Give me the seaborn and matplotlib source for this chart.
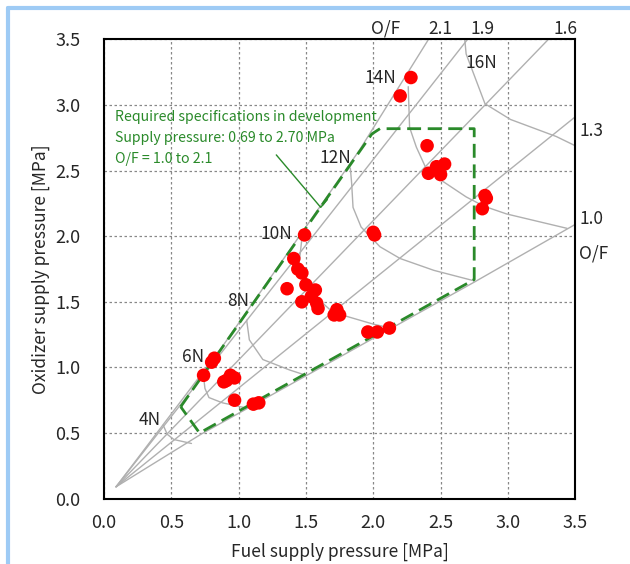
import matplotlib
matplotlib.use("Agg")
import matplotlib.pyplot as plt
import seaborn as sns
import numpy as np
import pandas as pd
from matplotlib.lines import Line2D
from matplotlib.ticker import MultipleLocator, FormatStrFormatter

# test points (fuel, oxidizer) [MPa]
fuel_p = [2.28, 2.20, 2.40, 2.41, 2.47, 2.53, 2.50, 2.83, 2.84, 2.81,
          1.49, 2.00, 2.01, 1.41, 1.44, 1.47, 1.50, 1.36, 1.57, 1.54,
          1.47, 1.58, 1.59, 1.73, 1.71, 1.75, 1.96, 2.03, 2.12,
          0.80, 0.82, 0.74, 0.94, 0.89, 0.91, 0.97, 0.97, 1.11, 1.15]
ox_p = [3.21, 3.07, 2.69, 2.48, 2.53, 2.55, 2.47, 2.31, 2.29, 2.21,
        2.01, 2.03, 2.01, 1.83, 1.75, 1.72, 1.63, 1.60, 1.59, 1.54,
        1.50, 1.49, 1.45, 1.44, 1.40, 1.40, 1.27, 1.27, 1.30,
        1.04, 1.07, 0.94, 0.94, 0.89, 0.90, 0.92, 0.75, 0.72, 0.73]

# constant O/F lines
of_labels = ["2.1", "1.9", "1.6", "1.3", "1.0"]
of_x = [[0.09, 0.88, 1.90, 2.41],
        [0.09, 2.70],
        [0.09, 3.30],
        [0.09, 3.50],
        [0.09, 0.72, 2.75, 3.50]]
of_y = [[0.09, 1.16, 2.66, 3.50],
        [0.09, 3.50],
        [0.09, 3.50],
        [0.09, 2.91],
        [0.09, 0.49, 1.65, 2.09]]

# constant thrust curves
thrust_labels = ["4N", "6N", "8N", "10N", "12N", "14N", "16N"]
thrust_x = [[0.44, 0.47, 0.52, 0.65],
            [0.74, 0.75, 0.78, 0.88, 1.06],
            [1.06, 1.08, 1.18, 1.38, 1.50],
            [1.47, 1.45, 1.55, 1.70, 2.00, 2.13],
            [1.83, 1.84, 1.85, 1.91, 2.05, 2.20, 2.45, 2.75],
            [2.26, 2.27, 2.32, 2.40, 2.50, 2.69, 2.82, 2.99, 3.44],
            [2.68, 2.69, 2.83, 3.02, 3.36, 3.50]]
thrust_y = [[0.56, 0.49, 0.45, 0.42],
            [0.93, 0.84, 0.77, 0.73, 0.69],
            [1.36, 1.21, 1.06, 0.98, 0.94],
            [1.98, 1.80, 1.56, 1.42, 1.33, 1.30],
            [2.52, 2.40, 2.22, 2.07, 1.92, 1.83, 1.74, 1.66],
            [3.14, 2.83, 2.68, 2.50, 2.43, 2.30, 2.23, 2.17, 2.06],
            [3.50, 3.39, 3.01, 2.89, 2.76, 2.69]]
thrust_pos = [(0.34, 0.60), (0.66, 1.08), (1.00, 1.51), (1.28, 2.02),
              (1.72, 2.60), (2.05, 3.21), (2.80, 3.32)]

# required specification envelope
spec_x = [0.57, 1.99, 2.05, 2.75, 2.75, 0.71, 0.57]
spec_y = [0.70, 2.78, 2.82, 2.82, 1.67, 0.50, 0.70]
leader_x = [1.28, 1.61, 1.66]
leader_y = [2.62, 2.22, 2.28]
spec_lines = ["Required specifications in development",
              "Supply pressure: 0.69 to 2.70 MPa",
              "O/F = 1.0 to 2.1"]
spec_text_y = [2.91, 2.75, 2.59]

sns.set_style("white")
plt.rcParams["font.family"] = ["Noto Sans CJK JP", "DejaVu Sans"]

fig = plt.figure(figsize=(6.3, 5.64), dpi=100)
ax = fig.add_axes([0.165, 0.116, 0.748, 0.814])

gray = "#b0b0b0"
for xs, ys in zip(of_x, of_y):
    ax.plot(xs, ys, color=gray, lw=1.0, zorder=2)
for xs, ys in zip(thrust_x, thrust_y):
    ax.plot(xs, ys, color=gray, lw=1.0, zorder=2)

green = "#2a8a2a"
ax.plot(spec_x, spec_y, color=green, lw=2.0, ls=(0, (5, 2.4)), zorder=3)
ax.plot(leader_x, leader_y, color=green, lw=1.0, zorder=3)

df = pd.DataFrame({"fuel": fuel_p, "ox": ox_p})
sns.scatterplot(data=df, x="fuel", y="ox", color="#ff0000", s=95,
                edgecolor="none", ax=ax, zorder=4)

for lab, (tx, ty) in zip(thrust_labels, thrust_pos):
    ax.text(tx, ty, lab, fontsize=12.5, ha="center", va="center", zorder=5)

for line, ty in zip(spec_lines, spec_text_y):
    ax.text(0.08, ty, line, color=green, fontsize=10.2, va="center",
            ha="left", zorder=5)

# O/F labels outside the frame
ax.text(2.09, 3.58, "O/F", fontsize=12.5, ha="center", va="center", clip_on=False)
for lab, xx in zip(["2.1", "1.9", "1.6"], [2.50, 2.81, 3.43]):
    ax.text(xx, 3.58, lab, fontsize=12.5, ha="center", va="center", clip_on=False)
ax.text(3.53, 2.80, "1.3", fontsize=12.5, ha="left", va="center", clip_on=False)
ax.text(3.53, 2.13, "1.0", fontsize=12.5, ha="left", va="center", clip_on=False)
ax.text(3.53, 1.87, "O/F", fontsize=12.5, ha="left", va="center", clip_on=False)

ax.set_xlim(0, 3.5)
ax.set_ylim(0, 3.5)
ax.xaxis.set_major_locator(MultipleLocator(0.5))
ax.yaxis.set_major_locator(MultipleLocator(0.5))
ax.xaxis.set_minor_locator(MultipleLocator(0.1))
ax.yaxis.set_minor_locator(MultipleLocator(0.1))
ax.xaxis.set_major_formatter(FormatStrFormatter("%.1f"))
ax.yaxis.set_major_formatter(FormatStrFormatter("%.1f"))
ax.tick_params(which="both", direction="in", labelsize=13, width=1.0)
ax.tick_params(which="major", length=5)
ax.tick_params(axis="x", which="major", pad=11)
ax.tick_params(axis="y", which="major", pad=17)
ax.tick_params(which="minor", length=3)
ax.grid(True, which="major", ls=(0, (2, 2)), color="#888888", lw=0.9)
for sp in ax.spines.values():
    sp.set_color("black")
    sp.set_linewidth(1.5)
ax.set_xlabel("Fuel supply pressure [MPa]", fontsize=12.5, labelpad=8)
ax.set_ylabel("Oxidizer supply pressure [MPa]", fontsize=12.5, labelpad=4)

# light blue frame of the original page
fig.add_artist(Line2D([0.013, 0.013], [0.0, 0.985], transform=fig.transFigure,
                      color="#9ecbf5", lw=3))
fig.add_artist(Line2D([0.013, 1.0], [0.985, 0.985], transform=fig.transFigure,
                      color="#9ecbf5", lw=3))

fig.savefig("out.png", dpi=100)
plt.close(fig)
